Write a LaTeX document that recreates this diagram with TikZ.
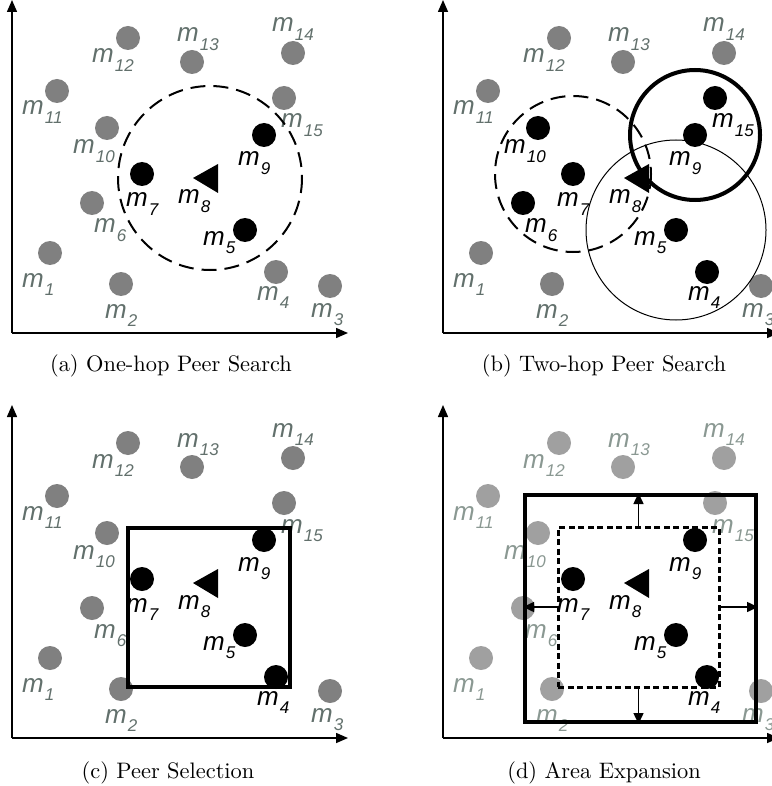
\documentclass[tikz,border=0pt]{standalone}
\usepackage{fontspec}
\newfontfamily\lblfont{Liberation Sans}
\usetikzlibrary{arrows.meta}
\definecolor{dotgray}{RGB}{128,128,128}
\definecolor{labgray}{RGB}{98,112,108}
\definecolor{dotlight}{RGB}{160,160,160}
\definecolor{lablight}{RGB}{138,152,146}
\newcommand\mlab[1]{m\kern1pt\raisebox{-8.5pt}{\fontsize{17}{17}\selectfont #1}}
\newcommand\captxt[1]{\scalebox{2.24}{\fontsize{10}{12}\selectfont #1}}
\newcommand\drawpeers{%
  \foreach \i/\x/\y/\lx/\ly in {1/50/253/22/287, 2/121/284/105/318, 3/330/286/311/317,
      4/276/272/257/300, 5/245/230/203/245, 6/92/203/94/233, 7/142/174/126/207,
      9/264/135/238/166, 10/107/128/73/154, 11/57/91/22/115, 12/128/38/92/63,
      13/192/62/177/42, 14/293/53/272/32, 15/284/98/281/128}{%
    \node[peerdot, d\i/.try] (p\i) at (\x,\y) {};
    \node[peerlbl, l\i/.try] (t\i) at (\lx,\ly) {\mlab{\i}};
  }
  \coordinate (c8) at (210,178);
  \fill[black] (c8) ++(-17,0) -- ++(25,-14) -- ++(0,29) -- cycle;
  \node[peerlbl, text=black] (t8) at (178,204) {\mlab{8}};
  \coordinate (o) at (12,333);
  \coordinate (yt) at (12,0);
  \coordinate (xt) at (348,333);
  \draw[axisline] (o) -- (yt);
  \draw[axisline] (o) -- (xt);
}
\begin{document}
\begin{tikzpicture}[x=1pt,y=-1pt,
  peerdot/.style={circle, fill=dotgray, inner sep=0pt, minimum size=24pt},
  peerlbl/.style={anchor=base west, inner sep=0pt, text=labgray,
    font=\lblfont\itshape\fontsize{26}{26}\selectfont},
  hl/.code={\tikzset{d#1/.style={fill=black}, l#1/.style={text=black}}},
  axisline/.style={line width=1.5pt, -{Triangle[length=12pt,width=10pt]}},
  dashcirc/.style={line width=2pt, dash pattern=on 15pt off 8pt},
  areabox/.style={draw, inner sep=0pt, fill=none},
  exparrow/.style={line width=1.5pt, -{Triangle[length=11pt,width=10pt]}},
  captext/.style={anchor=base, inner sep=0pt},
]
\useasboundingbox (0,0) rectangle (771,786);

% (a)
\begin{scope}[name prefix=a-, hl/.list={5,7,9}]
  \drawpeers
  \draw[dashcirc] (c8) circle[radius=92];
\end{scope}

% (b)
\begin{scope}[shift={(431,0)}, name prefix=b-, hl/.list={4,5,6,7,9,10,15}]
  \drawpeers
  \draw[dashcirc] (p7) circle[radius=78];
  \draw[line width=4pt] (p9) circle[radius=65];
  \draw[line width=1pt] (p5) circle[radius=90];
\end{scope}

% (c)
\begin{scope}[shift={(0,405)}, name prefix=c-, hl/.list={4,5,7,9}]
  \drawpeers
  \node[areabox, line width=3.5pt, minimum width=162pt, minimum height=159pt] (sel) at (209,202.5) {};
\end{scope}

% (d)
\begin{scope}[shift={(431,405)}, name prefix=d-, hl/.list={4,5,7,9},
    peerdot/.append style={fill=dotlight}, peerlbl/.append style={text=lablight}]
  \drawpeers
  \node[areabox, line width=4pt, minimum width=231pt, minimum height=227pt] (out) at (209.5,203.5) {};
  \node[areabox, line width=3pt, dash pattern=on 6pt off 3.5pt, minimum width=161pt, minimum height=160pt] (in) at (207.5,202) {};
  \draw[exparrow] (in.north) -- (in.north |- out.north);
  \draw[exparrow] (in.south) -- (in.south |- out.south);
  \draw[exparrow] (in.west) -- (in.west -| out.west);
  \draw[exparrow] (in.east) -- (in.east -| out.east);
\end{scope}

\node[captext] (capa) at (171,371) {\captxt{(a) One-hop Peer Search}};
\node[captext] (capb) at (604,371) {\captxt{(b) Two-hop Peer Search}};
\node[captext] (capc) at (168,778) {\captxt{(c) Peer Selection}};
\node[captext] (capd) at (604,778) {\captxt{(d) Area Expansion}};
\end{tikzpicture}
\end{document}
